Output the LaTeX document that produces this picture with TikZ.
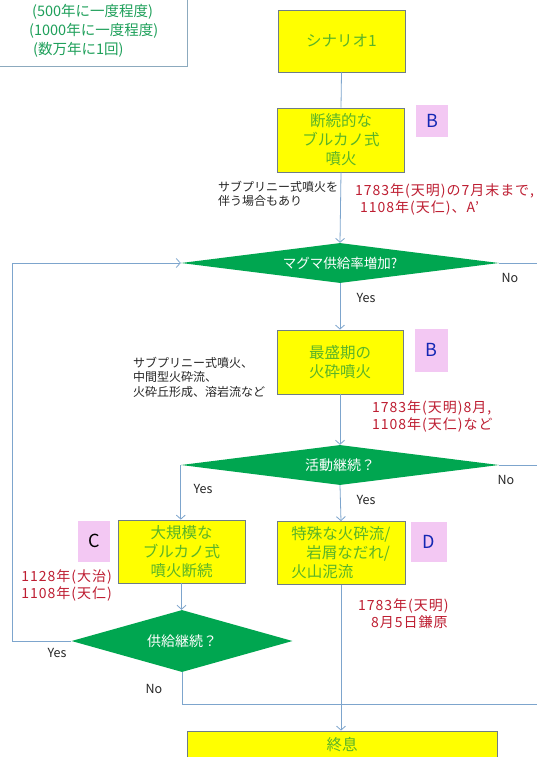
\documentclass[tikz,border=0pt]{standalone}
\usepackage{fontspec}
\setmainfont{Noto Sans CJK JP}
\newfontfamily\redfont[LetterSpace=7]{Noto Sans CJK JP}
\usetikzlibrary{shapes.geometric,arrows.meta}
\definecolor{boxyellow}{RGB}{255,255,0}
\definecolor{boxborder}{RGB}{110,125,135}
\definecolor{boxtext}{RGB}{90,180,40}
\definecolor{diagreen}{RGB}{0,166,80}
\definecolor{pinklab}{RGB}{243,200,243}
\definecolor{redtext}{RGB}{190,30,50}
\definecolor{bluetext}{RGB}{20,40,180}
\definecolor{linec}{RGB}{125,165,205}
\definecolor{notetext}{RGB}{30,160,90}
\definecolor{noteborder}{RGB}{140,170,190}
\tikzset{
  ybox/.style={draw=boxborder, fill=boxyellow, line width=0.8pt, text=boxtext,
    align=center, inner sep=0pt, font=\fontsize{15.5}{19}\selectfont},
  dia/.style={diamond, fill=diagreen, draw=none, text=white, inner sep=0pt},
  plab/.style={fill=pinklab, draw=none, inner sep=0pt, font=\fontsize{18}{18}\selectfont},
  redt/.style={text=redtext, font=\redfont\fontsize{14}{17}\selectfont, inner sep=0pt},
  blackt/.style={text=black!85, font=\fontsize{12}{14.5}\selectfont, inner sep=0pt, align=left},
  yn/.style={font=\fontsize{12.5}{14}\selectfont, inner sep=0pt, text=black!85},
  conn/.style={draw=linec, line width=0.8pt},
  arr/.style={conn, -{Straight Barb[length=4pt,width=9pt]}}
}
\begin{document}
\begin{tikzpicture}[x=1pt,y=-1pt]
\useasboundingbox (0,0) rectangle (537,757);
\fill[white] (0,0) rectangle (537,757);
\clip (0,0) rectangle (537,757);

% note box (top left, partly cut)
\node[draw=noteborder, line width=0.8pt, minimum width=200pt, minimum height=90pt, inner sep=0pt] (note) at (87,21) {};
\node[anchor=west, align=left, text=notetext, inner sep=0pt, font=\fontsize{14.5}{19}\selectfont] (notetxt) at (29,31)
  {\hspace{3pt}(500年に一度程度)\\(1000年に一度程度)\\\hspace{4pt}(数万年に1回)};

% boxes
\node[ybox, minimum width=127pt, minimum height=62pt] (s1) at (341.5,41) {シナリオ1};
\node[ybox, minimum width=127pt, minimum height=64pt] (bul) at (341,140) {断続的な\\ブルカノ式\\噴火};
\node[plab, minimum width=32pt, minimum height=32pt, text=bluetext] (B1) at (432,121) {B};
\node[blackt, anchor=west] (t1) at (218,194) {サブプリニー式噴火を\\伴う場合もあり};
\node[redt, anchor=west, align=left] (r1) at (355,199) {1783年(天明)の7月末まで,\\\hspace{5pt}1108年(天仁)、A’};

\node[dia, minimum width=318pt, minimum height=40pt, aspect=8, font=\fontsize{13.5}{15}\selectfont] (d1) at (340,263) {マグマ供給率増加?};
\node[yn] (yes1) at (366,298) {Yes};
\node[yn] (no1) at (510,278) {No};

\node[ybox, minimum width=126pt, minimum height=64pt] (peak) at (340,362) {最盛期の\\火砕噴火};
\node[plab, minimum width=33pt, minimum height=43pt, text=bluetext] (B2) at (431,350) {B};
\node[blackt, anchor=west] (t2) at (133,377) {サブプリニー式噴火、\\中間型火砕流、\\火砕丘形成、溶岩流など};
\node[redt, anchor=west, align=left] (r2) at (372,416) {1783年(天明)8月,\\1108年(天仁)など};

\node[dia, minimum width=318pt, minimum height=40pt, aspect=8, font=\fontsize{14}{16}\selectfont] (d2) at (340,465) {活動継続？};
\node[yn] (yes2a) at (203,489) {Yes};
\node[yn] (yes2b) at (366,500) {Yes};
\node[yn] (no2) at (506,480) {No};

\node[ybox, minimum width=127pt, minimum height=63pt] (C) at (181.5,551.5) {大規模な\\ブルカノ式\\噴火断続};
\node[plab, minimum width=32pt, minimum height=41pt, text=black] (CL) at (94,541) {C};
\node[redt, anchor=east, align=right] (r3) at (112,585) {1128年(大治)\\1108年(天仁)};

\node[ybox, minimum width=128pt, minimum height=63pt, align=left] (D) at (341,553) {特殊な火砕流/\\\hspace{15pt}岩屑なだれ/\\火山泥流};
\node[plab, minimum width=36pt, minimum height=40pt, text=bluetext] (DL) at (429,542) {D};
\node[redt, anchor=west, align=left] (r4) at (358,614) {1783年(天明)\\\hspace{13pt}8月5日鎌原};

\node[dia, minimum width=221pt, minimum height=62pt, aspect=3.6, font=\fontsize{14}{16}\selectfont] (d3) at (182,641) {供給継続？};
\node[yn] (yes3) at (57,653) {Yes};
\node[yn] (no3) at (154,689) {No};

\node[draw=boxborder, fill=boxyellow, line width=0.8pt, text=boxtext, inner sep=0pt,
  minimum width=310pt, minimum height=60pt] (endb) at (342,761) {};
\node[text=boxtext, inner sep=0pt, font=\fontsize{15.5}{19}\selectfont] (endt) at (342,745) {終息};

% coordinates
\coordinate (loopL) at (12,641);
\coordinate (loopT) at (12,263);
\coordinate (rightA) at (545,263);
\coordinate (rightB) at (545,465);
\coordinate (rightC) at (545,704);
\coordinate (joinN) at (182,704);
\coordinate (joinM) at (341,704);

% connectors
\draw[conn] (s1.south) -- (bul.north);
\draw[arr] (bul.south) -- (d1.north);
\draw[arr] (d1.south) -- (peak.north);
\draw[arr] (peak.south) -- (d2.north);
\draw[arr] (d2.west) -- (d2.west |- C.north);
\draw[arr] (d2.south) -- (D.north);
\draw[arr] (C.south) -- (C.south |- d3.north);
\draw[arr] (d3.west) -- (loopL) -- (loopT) -- (d1.west);
\draw[conn] (d1.east) -- (rightA) -- (rightC) -- (joinM);
\draw[conn] (d2.east) -- (rightB);
\draw[conn] (d3.south) -- (joinN) -- (joinM);
\draw[arr] (D.south) -- (D.south |- endb.north);
\end{tikzpicture}
\end{document}
